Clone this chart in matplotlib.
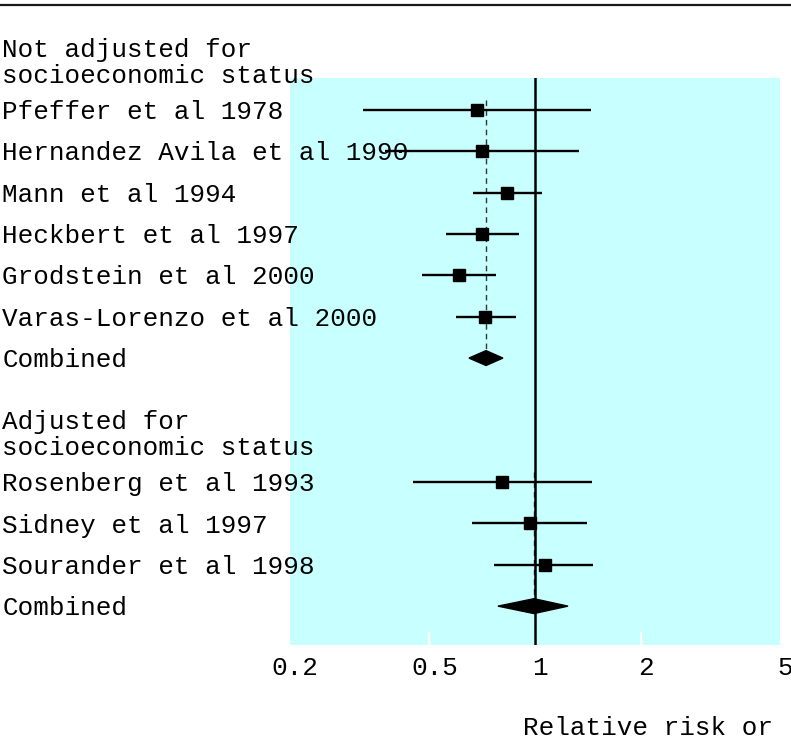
import matplotlib.pyplot as plt
import matplotlib.transforms as mtransforms
from matplotlib.patches import Polygon
import numpy as np

# studies not adjusted for socioeconomic status
names1 = ["Pfeffer et al 1978", "Hernandez Avila et al 1990", "Mann et al 1994",
          "Heckbert et al 1997", "Grodstein et al 2000", "Varas-Lorenzo et al 2000"]
rr1 = [0.683, 0.706, 0.832, 0.706, 0.607, 0.720]
lo1 = [0.323, 0.373, 0.665, 0.557, 0.476, 0.595]
hi1 = [1.445, 1.335, 1.047, 0.900, 0.774, 0.883]
comb1 = [0.725, 0.648, 0.810]  # estimate, lower, upper

# studies adjusted for socioeconomic status
names2 = ["Rosenberg et al 1993", "Sidney et al 1997", "Sourander et al 1998"]
rr2 = [0.805, 0.968, 1.068]
lo2 = [0.449, 0.661, 0.764]
hi2 = [1.454, 1.407, 1.464]
comb2 = [0.993, 0.784, 1.242]

header1 = "Not adjusted for\nsocioeconomic status"
header2 = "Adjusted for\nsocioeconomic status"
xticks = [0.2, 0.5, 1, 2, 5]
xticklabels = ["0.2", "0.5", "1", "2", "5"]
xlabel = "Relative risk or"

FONT = ["Liberation Mono", "DejaVu Sans Mono"]
FS = 18.7
CYAN = "#c8ffff"

fig = plt.figure(figsize=(7.91, 7.42), dpi=100)
ax = fig.add_axes([290 / 791, 1 - 645 / 742, 490 / 791, 567 / 742])
ax.set_facecolor(CYAN)
ax.set_xscale("log")
ax.set_xlim(0.2, 5)
ax.set_ylim(12.94, -0.774)
for s in ax.spines.values():
    s.set_visible(False)

# label transform: x in figure fraction, y in data
lbl = mtransforms.blended_transform_factory(fig.transFigure, ax.transData)


def group(names, rr, lo, hi, comb, y0, header, dash_top):
    ys = y0 + np.arange(len(names))
    ax.hlines(ys, lo, hi, color="black", lw=1.7, zorder=3)
    ax.plot(rr, ys, ls="none", marker="s", ms=8.6, color="black", zorder=4)
    yc = y0 + len(names)
    est, clo, chi = comb
    h = 0.18
    ax.add_patch(Polygon([[clo, yc], [est, yc - h], [chi, yc], [est, yc + h]],
                         closed=True, color="black", zorder=4))
    ax.vlines(est, y0 + dash_top, yc - h, color="#333333", lw=1.0,
              linestyles=(0, (4, 3)), zorder=2)
    for n, y in zip(names, ys):
        ax.text(0.003, y + 0.05, n, transform=lbl, ha="left", va="center",
                family=FONT, fontsize=FS, clip_on=False)
    ax.text(0.003, yc + 0.05, "Combined", transform=lbl, ha="left", va="center",
            family=FONT, fontsize=FS, clip_on=False)
    ax.text(0.003, y0 - 1.14, header, transform=lbl, ha="left", va="center",
            family=FONT, fontsize=FS, linespacing=1.1, clip_on=False)


group(names1, rr1, lo1, hi1, comb1, 0, header1, -0.25)
group(names2, rr2, lo2, hi2, comb2, 9, header2, -0.25)

ax.axvline(1, color="black", lw=1.8, zorder=3)

ax.set_yticks([])
ax.set_xticks(xticks)
ax.set_xticklabels(xticklabels, family=FONT, fontsize=FS)
ax.xaxis.set_minor_locator(plt.NullLocator())
ax.tick_params(axis="x", direction="in", color="white", length=9.5, width=1.6, pad=8)
for i in (0, len(xticks) - 1):
    ax.xaxis.get_major_ticks()[i].tick1line.set_visible(False)
off = mtransforms.ScaledTranslation(5 / 100, 0, fig.dpi_scale_trans)
for t in ax.get_xticklabels():
    t.set_transform(t.get_transform() + off)

fig.text(523 / 791, 1 - 735 / 742, xlabel, ha="left", va="baseline",
         family=FONT, fontsize=FS)

fig.add_artist(plt.Line2D([0, 1], [1 - 5 / 742, 1 - 5 / 742], color="#1a1a1a",
                          lw=1.6, transform=fig.transFigure))

fig.savefig("out.png", dpi=100)
